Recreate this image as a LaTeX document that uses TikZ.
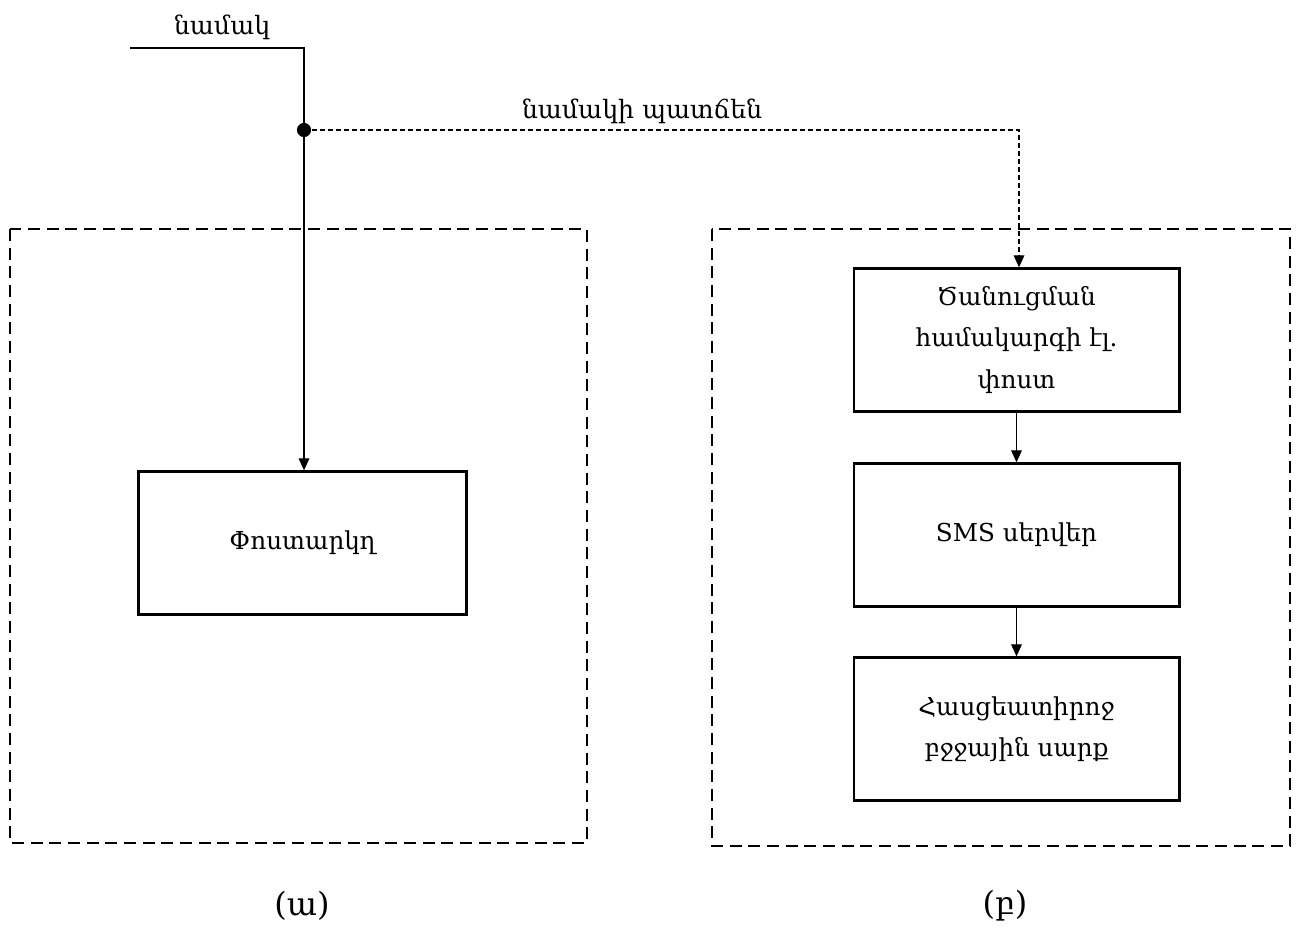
\documentclass[tikz,border=0pt]{standalone}
\usepackage{fontspec}
\setmainfont{DejaVu Serif}
\usetikzlibrary{arrows.meta}
\begin{document}
\begin{tikzpicture}[x=0.75pt,y=-0.75pt,
  frame/.style={draw,line width=2pt,dash pattern=on 9pt off 5pt},
  block/.style={draw,line width=2pt,minimum width=246pt,minimum height=107pt,
    align=center,inner sep=0pt,font=\fontsize{18.5}{31}\selectfont},
  wire/.style={line width=0.9pt},
  arr/.style={wire,-{Triangle[length=9pt,width=8pt]}},
  lbl/.style={font=\fontsize{19}{22}\selectfont,inner sep=1pt},
  subcap/.style={font=\fontsize{24}{28}\selectfont,inner sep=1pt}]
\useasboundingbox (0,0) rectangle (1301,931);
% two dashed enclosures
\draw[frame] (10,229) rectangle (587,843);
\draw[frame] (712,229) rectangle (1290,846);
% blocks
\node[block] (mail) at (302.5,543) {Փոստարկղ};
\node[block,minimum width=244pt] (notify) at (1016.5,340) {Ծանուցման\\համակարգի էլ.\\փոստ};
\node[block,minimum width=244pt] (sms) at (1016.5,535) {SMS սերվեր};
\node[block,minimum width=244pt] (phone) at (1016.5,729) {Հասցեատիրոջ\\բջջային սարք};
% incoming letter
\coordinate (in) at (130,48);
\coordinate (corner) at (304,48);
\coordinate (split) at (304,130);
\coordinate (turn) at (1019,130);
\draw[wire] (in) -- (corner) -- (split);
\draw[arr] (split) -- (mail.north -| split);
\fill (split) circle (5.3pt);
\draw[arr,dash pattern=on 3.5pt off 2.5pt] (split) -- (turn) -- (turn |- notify.north);
\draw[arr] (notify.south) -- (sms.north);
\draw[arr] (sms.south) -- (phone.north);
% labels
\node[lbl] (l1) at (222,27) {նամակ};
\node[lbl] (l2) at (642,111) {նամակի պատճեն};
\node[subcap] (ca) at (302,906) {(ա)};
\node[subcap] (cb) at (1005,906) {(բ)};
\end{tikzpicture}
\end{document}
